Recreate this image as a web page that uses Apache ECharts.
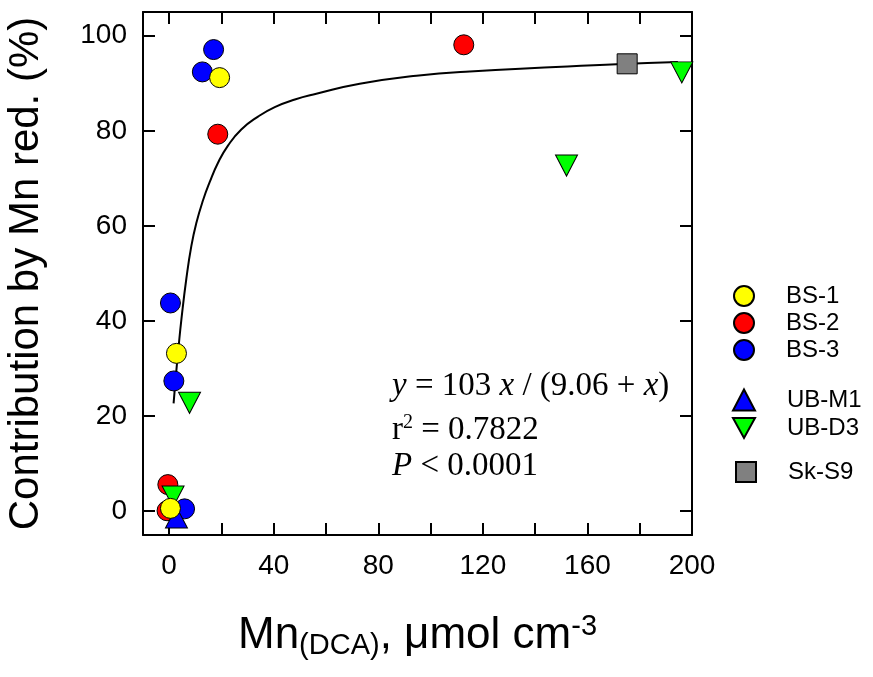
<!DOCTYPE html>
<html><head><meta charset="utf-8">
<script src="https://cdn.jsdelivr.net/npm/echarts@6/dist/echarts.min.js"></script>
<style>html,body{margin:0;padding:0;background:#fff}#c{width:873px;height:677px}</style>
</head><body><div id="c"></div>
<script>
const xTicks = [0, 20, 40, 60, 80, 100, 120, 140, 160, 180, 200];
const xLabels = [0, 40, 80, 120, 160, 200];
const yTicks = [0, 20, 40, 60, 80, 100];

const bs1 = [[19.3, 91.2], [2.8, 33.2], [0.5, 0.6]];
const bs2 = [[18.6, 79.3], [112.7, 98.1], [-0.5, 5.6], [-0.8, 0.1]];
const bs3 = [[17.0, 97.1], [12.7, 92.4], [0.5, 43.8], [1.8, 27.4], [5.9, 0.5]];
const ubm1 = [[2.8, -1.3]];
const ubd3 = [[7.8, 22.8], [1.5, 3.1], [152.0, 72.7], [196.1, 92.3]];
const sks9 = [[175.2, 94.1]];

const curveX = [1.7, 2.5, 3.6, 4.7, 6.6, 8.5, 10.4, 12.9, 15.5, 18.7, 22.5, 27.6, 34.0, 40.4, 48.1, 56.3, 72.9, 94.6, 115.0, 171.2, 194.6];
const curveY = [22.7, 28.0, 34.5, 40.4, 49.0, 55.8, 60.6, 65.3, 69.2, 73.3, 76.9, 80.3, 83.0, 85.0, 86.6, 87.8, 89.9, 91.6, 92.5, 94.0, 94.5];

const SANS = 'Liberation Sans, Arial, sans-serif';
const SERIF = 'Liberation Serif, Times New Roman, serif';
const frame = {show: true, onZero: false, lineStyle: {color: '#000', width: 2}};
const tick = (vals) => ({show: true, inside: true, length: 12, customValues: vals, lineStyle: {color: '#000', width: 2}});
const invTri = 'path://M0,0 L10,0 L5,9 Z';
const mk = (c) => ({color: c, opacity: 1, borderColor: '#000', borderWidth: 1});
const legText = {fontFamily: SANS, fontSize: 24, color: '#000', padding: [0, 0, 0, 27]};

const chart = echarts.init(document.getElementById('c'));
chart.setOption({
  animation: false,
  backgroundColor: '#fff',
  grid: {left: 143, right: 181, top: 12, bottom: 142, containLabel: false, outerBoundsMode: 'none'},
  xAxis: [
    {type: 'value', min: -10, max: 200, position: 'bottom', axisLine: frame, axisTick: tick(xTicks),
     splitLine: {show: false},
     axisLabel: {customValues: xLabels, fontFamily: SANS, fontSize: 28, color: '#000', margin: 17},
     name: '{t|Mn}{s|(DCA)}{t|, μmol cm}{p|-3}', nameLocation: 'middle', nameGap: 77,
     nameTextStyle: {rich: {
       t: {fontFamily: SANS, fontSize: 44, color: '#000', lineHeight: 48},
       s: {fontFamily: SANS, fontSize: 29, color: '#000', lineHeight: 48, verticalAlign: 'bottom', padding: [16, 0, 0, 0]},
       p: {fontFamily: SANS, fontSize: 29, color: '#000', lineHeight: 48, verticalAlign: 'top', padding: [0, 0, 24, 0]}
     }}},
    {type: 'value', min: -10, max: 200, position: 'top', axisLine: frame, axisTick: tick(xTicks),
     axisLabel: {show: false}, splitLine: {show: false}}
  ],
  yAxis: [
    {type: 'value', min: -5, max: 105, position: 'left', axisLine: frame, axisTick: tick(yTicks),
     splitLine: {show: false},
     axisLabel: {customValues: yTicks, fontFamily: SANS, fontSize: 28, color: '#000', margin: 16},
     name: 'Contribution by Mn red. (%)', nameLocation: 'middle', nameGap: 96, nameRotate: 90,
     nameTextStyle: {fontFamily: SANS, fontSize: 42, color: '#000'}},
    {type: 'value', min: -5, max: 105, position: 'right', axisLine: frame, axisTick: tick(yTicks),
     axisLabel: {show: false}, splitLine: {show: false}}
  ],
  legend: [
    {orient: 'vertical', left: 728, top: 279, itemWidth: 20, itemHeight: 20, itemGap: 3,
     data: ['BS-1', 'BS-2', 'BS-3'], textStyle: legText},
    {orient: 'vertical', left: 727, top: 383, itemWidth: 22, itemHeight: 21, itemGap: 4,
     data: ['UB-M1', 'UB-D3'], textStyle: legText},
    {orient: 'vertical', left: 730, top: 455, itemWidth: 20, itemHeight: 20,
     data: ['Sk-S9'], textStyle: legText}
  ],
  graphic: [
    {type: 'text', x: 392, y: 386, style: {
      text: '{i|y} = 103 {i|x} / (9.06 + {i|x})', verticalAlign: 'middle',
      fontFamily: SERIF, fontSize: 33, fill: '#000',
      rich: {i: {fontFamily: SERIF, fontStyle: 'italic', fontSize: 33, fill: '#000'}}}},
    {type: 'text', x: 392, y: 430, style: {
      text: 'r{p|2} = 0.7822', verticalAlign: 'middle',
      fontFamily: SERIF, fontSize: 33, fill: '#000',
      rich: {p: {fontFamily: SERIF, fontSize: 20, fill: '#000', verticalAlign: 'top', padding: [0, 0, 14, 0]}}}},
    {type: 'text', x: 392, y: 466, style: {
      text: '{i|P} < 0.0001', verticalAlign: 'middle',
      fontFamily: SERIF, fontSize: 33, fill: '#000',
      rich: {i: {fontFamily: SERIF, fontStyle: 'italic', fontSize: 33, fill: '#000'}}}}
  ],
  series: [
    {name: 'fit', type: 'line', data: curveX.map((x, i) => [x, curveY[i]]), smooth: 0.5, showSymbol: false,
     lineStyle: {color: '#000', width: 2}, z: 1, silent: true},
    {name: 'BS-2', type: 'scatter', data: bs2, symbol: 'circle', symbolSize: 20, itemStyle: mk('#ff0000'), z: 2},
    {name: 'BS-3', type: 'scatter', data: bs3, symbol: 'circle', symbolSize: 20, itemStyle: mk('#0000ff'), z: 2},
    {name: 'UB-M1', type: 'scatter', data: ubm1, symbol: 'triangle', symbolSize: [22, 21], itemStyle: mk('#0000ff'), z: 3},
    {name: 'UB-D3', type: 'scatter', data: ubd3, symbol: invTri, symbolSize: [22, 21], itemStyle: mk('#00ff00'), z: 3},
    {name: 'BS-1', type: 'scatter', data: bs1, symbol: 'circle', symbolSize: 20, itemStyle: mk('#ffff00'), z: 4},
    {name: 'Sk-S9', type: 'scatter', data: sks9, symbol: 'rect', symbolSize: 20, itemStyle: mk('#808080'), z: 4}
  ]
});
</script></body></html>
